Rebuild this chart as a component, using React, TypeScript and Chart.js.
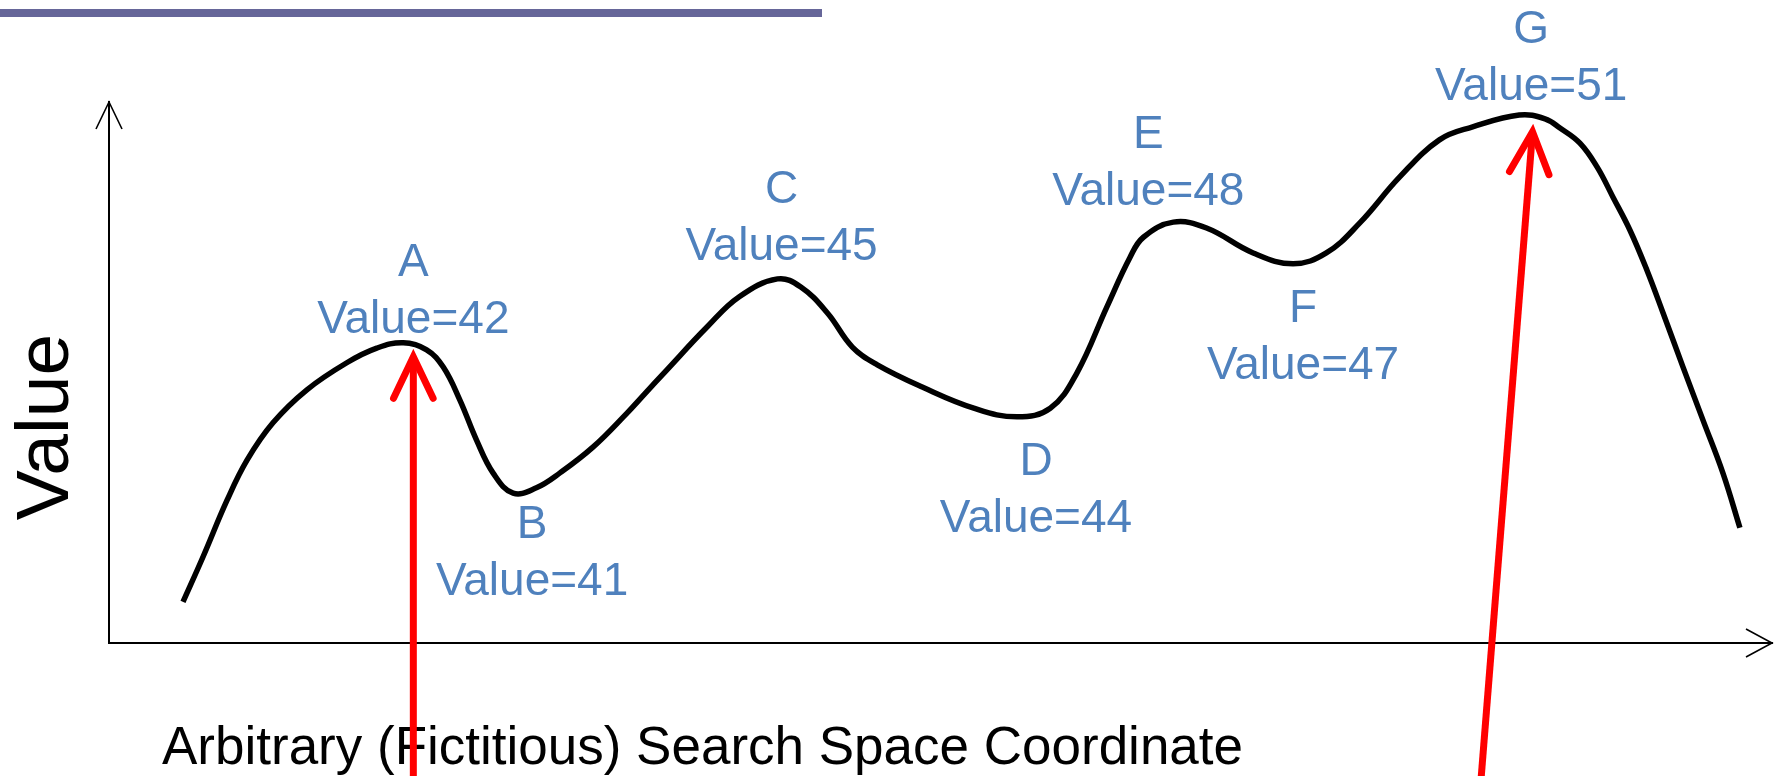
import React, { useEffect, useRef } from "react";
import { Chart, registerables } from "chart.js";

Chart.register(...registerables);

// ---- Data (x: search-space coordinate, y: relative height, both 0..100 on the axes) ----
const curveX = [
  4.45, 5.65, 7.1, 8.3, 9.86, 11.9, 14.3, 16.1, 17.7, 19.1, 20.1, 21.1, 22.1, 23.1, 24.3,
  25.7, 27.1, 29.1, 31.15, 32.2, 33.55, 35.96, 37.9, 40.2, 41.6, 43.2, 44.7, 46.2, 48.9,
  52.0, 54.6, 56.6, 58.2, 60.0, 61.4, 62.2, 64.0, 66.0, 68.8, 71.2, 73.2, 75.2, 77.6,
  80.0, 82.0, 84.8, 86.35, 87.25, 88.45, 89.48, 90.44, 91.46, 92.48, 93.45, 94.65, 95.85,
  97.05, 98.07,
];
const curveY = [
  7.6, 15.9, 26.4, 33.8, 40.7, 46.8, 51.8, 54.5, 55.5, 54.2, 51.0, 44.9, 37.5, 31.4, 27.7,
  28.7, 31.4, 36.2, 42.5, 46.0, 50.5, 58.4, 64.0, 67.3, 65.8, 61.0, 54.7, 51.4, 47.3,
  43.4, 41.8, 43.4, 49.9, 62.1, 71.3, 75.0, 77.8, 76.7, 72.1, 70.1, 72.1, 77.6, 86.1,
  93.0, 95.4, 97.6, 96.9, 95.2, 92.4, 88.0, 82.4, 76.3, 68.9, 61.0, 51.0, 41.2,
  31.4, 21.3,
];

const pointNames = ["A", "B", "C", "D", "E", "F", "G"];
const pointValues = [42, 41, 45, 44, 48, 47, 51];
const pointX = [17.7, 24.3, 40.2, 54.6, 64.0, 71.2, 84.8];
const pointY = [55.5, 27.7, 67.3, 41.8, 77.8, 70.1, 97.6];

// red arrows: from (base) -> to (tip)
const arrowFromX = [18.3, 82.5];
const arrowFromY = [-25.3, -25.3];
const arrowToX = [18.3, 85.6];
const arrowToY = [52.9, 94.5];

const xAxisTitle = "Arbitrary (Fictitious) Search Space Coordinate";
const yAxisTitle = "Value";

// ---- Styles ----
const FONT = '"Liberation Sans", Arial, Helvetica, sans-serif';
const LABEL_COLOR = "#4F81BD";
const LABEL_OFFSETS: [number, number][] = [
  [10, -67],
  [19, 45],
  [4, -76],
  [19, 58],
  [-25, -74],
  [10, 58],
  [12, -72],
];
const LABEL_LINE_GAP = 57;

const overlayPlugin = {
  id: "overlay",
  afterDraw(chart: any) {
    const { ctx, chartArea } = chart;
    const xs = chart.scales.x;
    const ys = chart.scales.y;
    ctx.save();

    // slide-style top bar
    ctx.fillStyle = "#666699";
    ctx.fillRect(0, 9, 822, 8);

    // axis arrowheads (open)
    ctx.strokeStyle = "#000";
    ctx.lineWidth = 1.6;
    ctx.lineCap = "butt";
    const l = chartArea.left;
    const t = chartArea.top;
    const r = chartArea.right;
    const b = chartArea.bottom;
    ctx.beginPath();
    ctx.moveTo(l - 13, t + 27);
    ctx.lineTo(l, t);
    ctx.lineTo(l + 13, t + 27);
    ctx.stroke();
    ctx.beginPath();
    ctx.moveTo(r - 26, b - 14);
    ctx.lineTo(r, b);
    ctx.lineTo(r - 26, b + 14);
    ctx.stroke();

    // point labels
    ctx.fillStyle = LABEL_COLOR;
    ctx.font = `46px ${FONT}`;
    ctx.textAlign = "center";
    ctx.textBaseline = "alphabetic";
    pointNames.forEach((name, i) => {
      const px = xs.getPixelForValue(pointX[i]) + LABEL_OFFSETS[i][0];
      const py = ys.getPixelForValue(pointY[i]) + LABEL_OFFSETS[i][1];
      ctx.fillText(name, px, py);
      ctx.fillText(`Value=${pointValues[i]}`, px, py + LABEL_LINE_GAP);
    });

    // axis titles
    ctx.fillStyle = "#000";
    ctx.font = `53px ${FONT}`;
    ctx.textAlign = "left";
    ctx.fillText(xAxisTitle, l + 53, b + 121);

    ctx.save();
    ctx.translate(68, 427);
    ctx.rotate(-Math.PI / 2);
    ctx.font = `75px ${FONT}`;
    ctx.textAlign = "center";
    ctx.fillText(yAxisTitle, 0, 0);
    ctx.restore();

    // red arrows
    ctx.strokeStyle = "#FF0000";
    ctx.lineWidth = 7;
    for (let i = 0; i < arrowFromX.length; i++) {
      const x0 = xs.getPixelForValue(arrowFromX[i]);
      const y0 = ys.getPixelForValue(arrowFromY[i]);
      const x1 = xs.getPixelForValue(arrowToX[i]);
      const y1 = ys.getPixelForValue(arrowToY[i]);
      ctx.lineCap = "butt";
      ctx.beginPath();
      ctx.moveTo(x0, y0);
      ctx.lineTo(x1, y1);
      ctx.stroke();
      const ang = Math.atan2(y0 - y1, x0 - x1);
      const len = 46;
      const spread = (25.5 * Math.PI) / 180;
      ctx.lineCap = "round";
      ctx.lineJoin = "miter";
      ctx.beginPath();
      ctx.moveTo(x1 + len * Math.cos(ang - spread), y1 + len * Math.sin(ang - spread));
      ctx.lineTo(x1, y1);
      ctx.lineTo(x1 + len * Math.cos(ang + spread), y1 + len * Math.sin(ang + spread));
      ctx.stroke();
    }

    ctx.restore();
  },
};

export default function App() {
  const canvasRef = useRef<HTMLCanvasElement | null>(null);

  useEffect(() => {
    if (!canvasRef.current) return;
    const chart = new Chart(canvasRef.current, {
      type: "line",
      data: {
        datasets: [
          {
            label: "Fitness landscape",
            data: curveX.map((x, i) => ({ x, y: curveY[i] })),
            borderColor: "#000000",
            borderWidth: 5.5,
            borderCapStyle: "butt",
            borderJoinStyle: "round",
            pointRadius: 0,
            fill: false,
            tension: 0.4,
          } as any,
        ],
      },
      options: {
        responsive: false,
        animation: false,
        events: [],
        layout: { padding: { left: 109, top: 102, right: 7, bottom: 133 } },
        plugins: {
          legend: { display: false },
          tooltip: { enabled: false },
          title: { display: false },
        },
        scales: {
          x: {
            type: "linear",
            min: 0,
            max: 100,
            ticks: { display: false },
            grid: { display: false, drawTicks: false },
            border: { display: true, color: "#000", width: 2 },
            title: { display: false },
          },
          y: {
            type: "linear",
            min: 0,
            max: 100,
            ticks: { display: false },
            grid: { display: false, drawTicks: false },
            border: { display: true, color: "#000", width: 2 },
            title: { display: false },
          },
        },
      },
      plugins: [overlayPlugin],
    });
    return () => chart.destroy();
  }, []);

  return (
    <div style={{ position: "absolute", left: 0, top: 0, width: 1779, height: 776, background: "#fff" }}>
      <canvas ref={canvasRef} width={1779} height={776} style={{ display: "block" }} />
    </div>
  );
}
